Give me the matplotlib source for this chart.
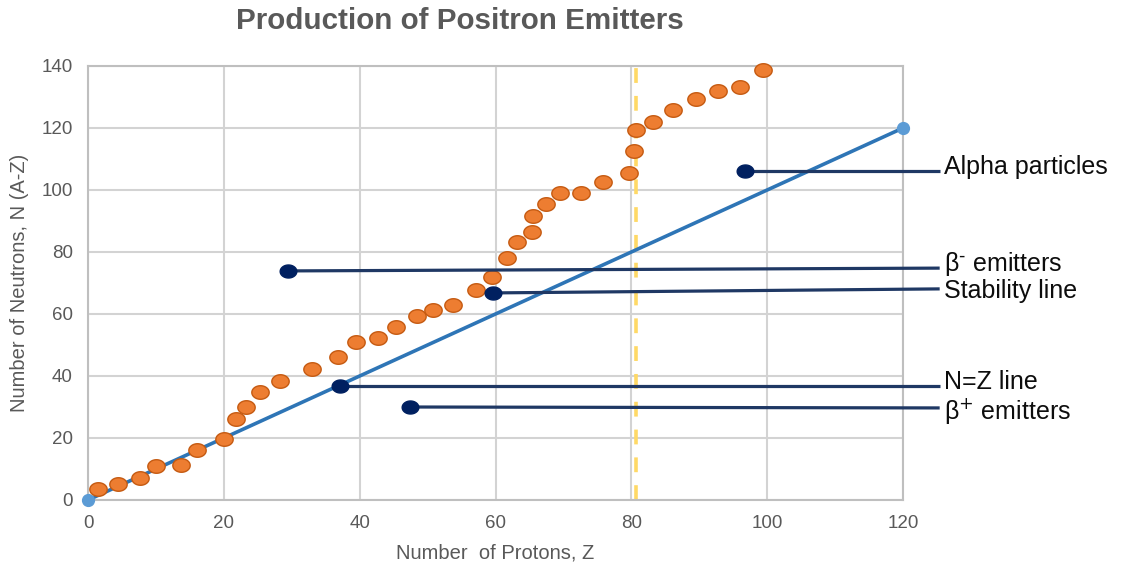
import matplotlib
matplotlib.use("Agg")
import matplotlib.pyplot as plt
import numpy as np
from matplotlib.path import Path

plt.rcParams['font.family'] = ['Liberation Sans', 'DejaVu Sans']

# Data
protons_z = [1.5, 4.4, 7.7, 10.0, 13.7, 16.0, 20.0, 21.8, 23.3, 25.3, 28.3, 33.0,
             36.8, 39.5, 42.7, 45.3, 48.4, 50.8, 53.7, 57.1, 59.5, 61.7, 63.2, 65.4,
             65.5, 67.4, 69.5, 72.6, 75.8, 79.7, 80.4, 80.7, 83.2, 86.1, 89.5, 92.8,
             96.0, 99.4]
neutrons_n = [3.5, 5.2, 7.1, 11.0, 11.3, 16.1, 19.7, 26.1, 30.0, 34.8, 38.4, 42.3,
              46.1, 51.0, 52.3, 55.8, 59.4, 61.3, 62.9, 67.7, 71.9, 78.1, 83.2, 86.5,
              91.6, 95.5, 99.0, 99.0, 102.6, 105.5, 112.6, 119.4, 121.9, 125.8, 129.4,
              131.9, 133.2, 138.7]
nz_line_x = [0, 120]
nz_line_y = [0, 120]
limit_z = 80.7

labels = ["Alpha particles", "β$^{\\text{-}}$ emitters", "Stability line", "N=Z line",
          "β$^{\\text{+}}$ emitters"]
label_dot_x = [96.7, 29.4, 59.6, 37.1, 47.4]
label_dot_y = [106.1, 73.9, 66.8, 36.8, 30.0]
label_end_x = [125.4, 125.4, 125.4, 125.4, 125.4]
label_end_y = [106.1, 74.8, 68.1, 36.8, 29.7]
label_text_y = [107.3, 76.1, 67.3, 38.0, 28.8]

fig = plt.figure(figsize=(11.22, 5.66), dpi=100)
ax = fig.add_axes([88/1122, 1-500/566, (903-88)/1122, (500-66)/566])

# ellipse marker
t = np.linspace(0, 2*np.pi, 60)
ell = Path(np.column_stack([np.cos(t), 0.78*np.sin(t)]), closed=True)

gridc = '#D3D3D3'
ax.set_xlim(0, 120)
ax.set_ylim(0, 140)
ax.set_xticks(range(0, 121, 20))
ax.set_yticks(range(0, 141, 20))
ax.grid(True, color=gridc, lw=1.5, zorder=0)
for s in ax.spines.values():
    s.set_color('#BFBFBF')
    s.set_linewidth(1.5)
ax.tick_params(length=0, labelsize=13.5, labelcolor='#595959')
ax.tick_params(axis='x', pad=11)
ax.tick_params(axis='y', pad=11)

ax.axvline(limit_z, color='#FFD966', lw=2.6, dashes=(4.1, 3.6), zorder=2)

ax.plot(nz_line_x, nz_line_y, color='#2E75B6', lw=2.6, zorder=3,
        marker='o', ms=8.5, mfc='#5B9BD5', mec='#5B9BD5', clip_on=False)

ax.plot(protons_z, neutrons_n, ls='none', marker=ell, ms=12.5, mfc='#ED7D31',
        mec='#C55A11', mew=1.0, zorder=4, clip_on=False)

for lab, dx, dy, ex, ey, ty in zip(labels, label_dot_x, label_dot_y, label_end_x,
                                   label_end_y, label_text_y):
    ax.plot([dx, ex], [dy, ey], color='#1F3864', lw=2.3, zorder=5, clip_on=False,
            solid_capstyle='butt')
    ax.plot([dx], [dy], ls='none', marker=ell, ms=12, mfc='#002060', mec='#002060',
            zorder=6, clip_on=False)
    ax.text(126.0, ty, lab, fontsize=18, color='#0D0D0D', va='center', ha='left')

ax.set_xlabel("Number  of Protons, Z", fontsize=14.5, color='#595959', labelpad=8)
ax.set_ylabel("Number of Neutrons, N (A-Z)", fontsize=14.5, color='#595959', labelpad=9)
fig.text(460/1122, 1-21/566, "Production of Positron Emitters", fontsize=21.3,
         fontweight='bold', color='#595959', ha='center', va='center')

fig.savefig("out.png", dpi=100)
